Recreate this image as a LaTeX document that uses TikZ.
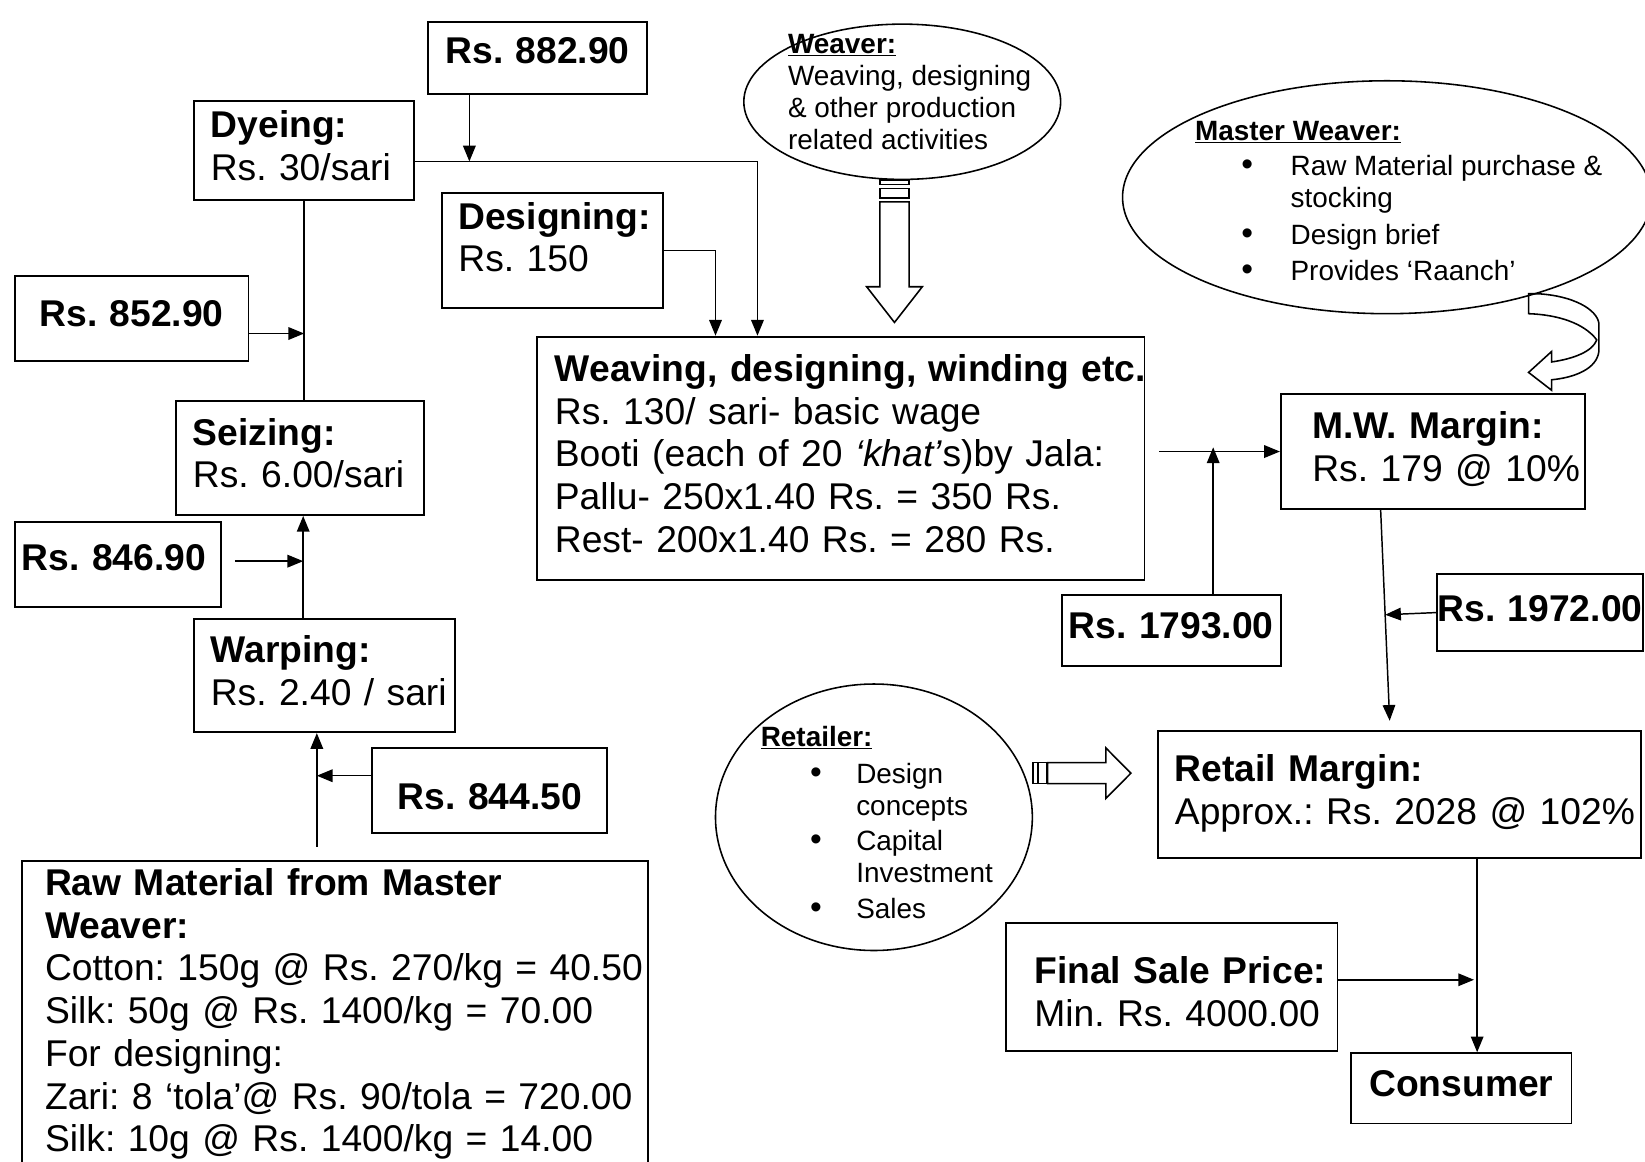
\documentclass[tikz,border=0pt]{standalone}
\usepackage{fontspec}
\setmainfont{Liberation Sans}
\usepackage{tikz}
\usetikzlibrary{arrows.meta,calc,positioning,shapes.geometric}
\tikzset{>=Latex}
\frenchspacing
\newcommand{\mainsize}{\fontsize{35.5pt}{40.75pt}\selectfont}
\newcommand{\ovalsize}{\fontsize{26.6pt}{30.5pt}\selectfont}
\newcommand{\boxlines}[1]{\begin{tabular}{@{}l@{}}#1\end{tabular}}
\newcommand{\bulletrow}[1]{\hspace*{#1}\makebox[\dimexpr91pt-#1\relax][l]{\scalebox{1.2}{\textbullet}}}
\newcommand{\controw}{\hspace*{91pt}}
\tikzset{
  box/.style={draw, line width=1.8pt, inner sep=0pt, anchor=north west, align=left, font=\mainsize},
  oval/.style={draw, ellipse, line width=1.5pt, inner sep=0pt},
  ovaltext/.style={inner sep=0pt, anchor=north west, align=left, font=\ovalsize},
  arr/.style={-{Triangle[length=15pt,width=12pt]}, line width=1.4pt},
  plain/.style={line width=1.4pt},
  hollow/.style={draw, line width=1.5pt, line join=miter},
}
\begin{document}
\begin{tikzpicture}[x=1pt, y=-1pt]
\useasboundingbox (0,0) rectangle (1568,1107);

% left column, raw material up to dyeing
\node[box, minimum width=597pt, text width=553pt, inner ysep=4pt] (raw) at (20,820)
{\boxlines{\textbf{Raw Material from Master}\\ \textbf{Weaver:}\\ Cotton: 150g @ Rs. 270/kg = 40.50\\ Silk: 50g @ Rs. 1400/kg = 70.00\\ For designing:\\ Zari: 8 ‘tola’@ Rs. 90/tola = 720.00\\ Silk: 10g @ Rs. 1400/kg = 14.00}};
\node[box, minimum width=249pt, minimum height=108pt, text width=217pt] (warp) at (184,589)
{\boxlines{\textbf{Warping:}\\ Rs. 2.40 / sari}};
\node[box, align=center, minimum width=224pt, minimum height=81pt, text width=224pt] (r844) at (354,712)
{\boxlines{\rule{0pt}{48pt}\textbf{Rs. 844.50}}};
\node[box, minimum width=197pt, minimum height=81pt, text width=183pt] (r846) at (13,497)
{\boxlines{\textbf{Rs. 846.90}\rule[-18pt]{0pt}{18pt}}};
\node[box, minimum width=236pt, minimum height=109pt, text width=204pt] (seize) at (167,381)
{\boxlines{\textbf{Seizing:}\\ Rs. 6.00/sari}};
\node[box, align=center, minimum width=223pt, minimum height=81pt, text width=223pt] (r852) at (13,262)
{\boxlines{\textbf{Rs. 852.90}}};
\node[box, minimum width=210pt, minimum height=95pt, text width=178pt] (dye) at (184,95)
{\boxlines{\textbf{Dyeing:}\\ Rs. 30/sari}};
\node[box, align=center, minimum width=209pt, minimum height=69pt, text width=209pt] (r882) at (407,20)
{\boxlines{\textbf{Rs. 882.90}\rule[-18pt]{0pt}{18pt}}};
\node[box, minimum width=211pt, minimum height=110pt, text width=179pt] (des) at (420,183)
{\boxlines{\textbf{Designing:}\\ Rs. 150\rule[-29pt]{0pt}{29pt}}};

% weaving stage
\node[box, minimum width=579pt, minimum height=232pt, text width=545pt] (weave) at (511,320)
{\boxlines{\textbf{Weaving, designing, winding etc.}\\ Rs. 130/ sari- basic wage\\ Booti (each of 20 \textit{‘khat’}s)by Jala:\\ Pallu- 250x1.40 Rs. = 350 Rs.\\ Rest- 200x1.40 Rs. = 280 Rs.}};
\node[oval, minimum width=302pt, minimum height=148pt] (weaverE) at (860,97) {};
\node[ovaltext] (weaverT) at (751,29)
{\boxlines{\underline{\textbf{Weaver:}}\\ Weaving, designing\\ \& other production\\ related activities}};

% master weaver and margins
\node[oval, minimum width=504pt, minimum height=222pt] (mwE) at (1322,188) {};
\node[ovaltext] (mwT) at (1139,112)
{\boxlines{\underline{\textbf{Master Weaver:}}\\[3.5pt] \bulletrow{44pt}Raw Material purchase \&\\ \controw stocking\\[4.5pt] \bulletrow{44pt}Design brief\\[3.5pt] \bulletrow{44pt}Provides ‘Raanch’}};
\node[box, minimum width=290pt, minimum height=109pt, text width=230pt] (mw) at (1220,375)
{\boxlines{\textbf{M.W. Margin:}\\ Rs. 179 @ 10\%}};
\node[box, align=center, minimum width=209pt, minimum height=68pt, text width=209pt] (r1793) at (1011,566)
{\boxlines{\textbf{Rs. 1793.00}}};
\node[box, align=center, minimum width=196pt, minimum height=74pt, text width=196pt] (r1972) at (1369,546)
{\boxlines{\textbf{Rs. 1972.00}}};

% retail and consumer
\node[box, minimum width=460pt, minimum height=121pt, text width=428pt] (retail) at (1103,696)
{\boxlines{\textbf{Retail Margin:}\\ Approx.: Rs. 2028 @ 102\%}};
\node[oval, minimum width=302pt, minimum height=254pt] (retE) at (833,779) {};
\node[ovaltext] (retT) at (725,690)
{\boxlines{\underline{\textbf{Retailer:}}\\[4.5pt] \bulletrow{47pt}Design\\ \controw concepts\\[3.5pt] \bulletrow{47pt}Capital\\ \controw Investment\\[3.5pt] \bulletrow{47pt}Sales}};
\node[box, minimum width=316pt, minimum height=122pt, text width=262pt] (final) at (958,879)
{\boxlines{\rule{0pt}{46.5pt}\textbf{Final Sale Price:}\\ Min. Rs. 4000.00}};
\node[box, align=center, minimum width=210pt, minimum height=67pt, text width=210pt] (consumer) at (1287,1003)
{\boxlines{\textbf{Consumer}}};

% connectors, left column
\coordinate (rawout) at ([shift={(282pt,13pt)}]raw.north west);
\draw[arr] (rawout) -- (rawout |- warp.south);
\coordinate (r844out) at ([yshift=14pt]r844.west);
\draw[arr] (r844out) -- (r844out -| rawout);
\coordinate (warpout) at ([xshift=105pt]warp.north west);
\draw[arr] (warpout) -- (warpout |- seize.south);
\coordinate (r846out) at ([shift={(12pt,3.5pt)}]r846.east);
\draw[arr] (r846out) -- (r846out -| warpout);
\draw[plain] (dye.south) -- (dye.south |- seize.north);
\coordinate (r852out) at ([yshift=-14.5pt]r852.east);
\draw[arr] (r852out) -- (r852out -| dye.south);

% connectors into weaving
\coordinate (dyeout) at ([yshift=-10.5pt]dye.east);
\coordinate (wvin2) at ([xshift=211pt]weave.north west);
\draw[arr] (dyeout) -| (wvin2);
\coordinate (r882out) at ([xshift=-65pt]r882.south);
\draw[arr] (r882out) -- (r882out |- dyeout);
\coordinate (wvin1) at ([xshift=171pt]weave.north west);
\draw[arr] (des.east) -| (wvin1);

% connectors, right side
\coordinate (wvout) at ([xshift=13pt]weave.east);
\draw[arr] (wvout |- mw.west) -- (mw.west);
\coordinate (r1793out) at ([xshift=40pt]r1793.north);
\draw[arr, shorten >=-4pt] (r1793out) -- (r1793out |- mw.west);
\coordinate (mwout) at ([xshift=96pt]mw.south west);
\coordinate (rtin) at ([xshift=222pt]retail.north west);
\draw[arr, shorten >=9pt] (mwout) -- (rtin);
\draw[arr] (r1972.west) -- ($(mwout)!(r1972.west)!(rtin)$);
\coordinate (rtout) at ([xshift=305pt]retail.south west);
\draw[arr] (rtout) -- (rtout |- consumer.north);
\coordinate (finout) at ([yshift=7pt]final.east);
\draw[arr, shorten >=3pt] (finout) -- (finout -| rtout);

% block arrows
\coordinate (wvarr) at ([xshift=-7.4pt]weaverE.south);
\begin{scope}[shift={(wvarr)}]
\draw[hollow] (-14,0) rectangle (14,4);
\draw[hollow] (-14,8) rectangle (14,17);
\draw[hollow] (-14,20.6) -- (-14,101.6) -- (-26.5,101.6) -- (0,135.6) -- (26.5,101.6) -- (14,101.6) -- (14,20.6) -- cycle;
\end{scope}
\coordinate (rtarr) at ([yshift=42pt]retE.east);
\begin{scope}[shift={(rtarr)}]
\draw[hollow] (0,-10) rectangle (4,10);
\draw[hollow] (5.2,-10) rectangle (12.8,10);
\draw[hollow] (13.8,-10) -- (69.4,-10) -- (69.4,-24) -- (93.2,0) -- (69.4,24) -- (69.4,10) -- (13.8,10) -- cycle;
\end{scope}
\draw[hollow] (1457,280) -- (1466,280) .. controls (1500,282) and (1522,295) .. (1524,308) -- (1524,335)
  .. controls (1522,352) and (1500,360) .. (1479,362) -- (1479,372) -- (1457,355) -- (1479,335) -- (1479,345)
  .. controls (1500,342) and (1518,335) .. (1522,324) .. controls (1510,308) and (1485,300) .. (1457,299) -- cycle;

\end{tikzpicture}
\end{document}
